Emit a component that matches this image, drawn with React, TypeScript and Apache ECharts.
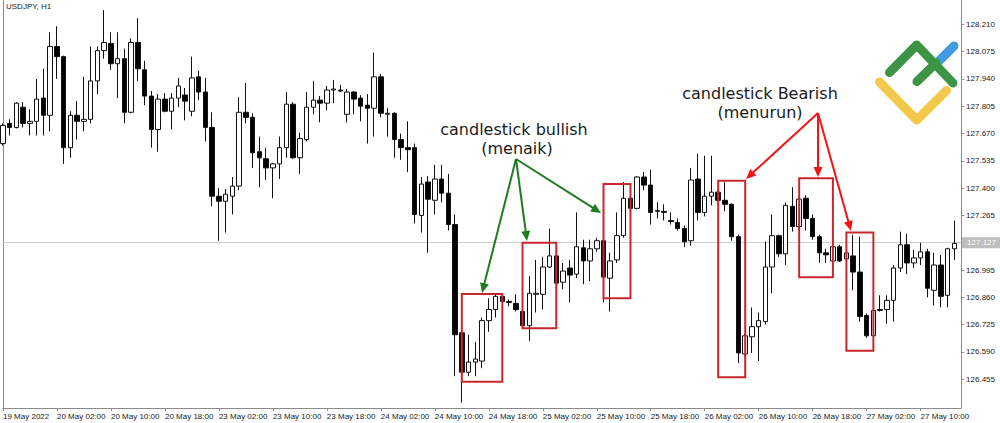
import React, { useEffect, useRef } from "react";
import * as echarts from "echarts";

// ---- time axis (hourly bars, weekend skipped) ----
const tradingDays = ["19 May", "20 May", "23 May", "24 May", "25 May", "26 May", "27 May"];
const firstHour = [18, 0, 0, 0, 0, 0, 0];
const lastHour = [23, 23, 23, 23, 23, 23, 16];
const firstLabel = "19 May 2022";
const labelEvery = 8;

// ---- OHLC values (USDJPY, H1) ----
const opens = [
  127.62, 127.72, 127.70, 127.80, 127.72, 127.73, 127.845, 127.76, 128.10, 128.05,
  127.60, 127.76, 127.73, 127.74, 127.93, 128.08, 128.115, 128.015, 128.04, 127.775,
  128.12, 127.985, 127.855, 127.69, 127.84, 127.78, 127.845, 127.86, 127.78, 127.95,
  127.875, 127.70, 127.36, 127.335, 127.36, 127.41, 127.775, 127.75, 127.58, 127.545,
  127.50, 127.52, 127.60, 127.815, 127.55, 127.64, 127.80, 127.835, 127.82, 127.885,
  127.885, 127.765, 127.875, 127.845, 127.81, 127.795, 127.95, 127.765, 127.77, 127.64,
  127.60, 127.60, 127.265, 127.43, 127.34, 127.445, 127.375, 127.22, 126.685, 126.49,
  126.54, 126.545, 126.745, 126.80, 126.865, 126.84, 126.83, 126.79, 126.72, 126.875,
  126.875, 127.01, 127.065, 126.935, 127.005, 126.975, 127.105, 127.04, 127.10, 127.14,
  126.955, 127.045, 127.165, 127.35, 127.30, 127.455, 127.415, 127.285, 127.285, 127.24,
  127.23, 127.20, 127.14, 127.445, 127.28, 127.36, 127.38, 127.34, 127.32, 127.16,
  126.58, 126.665, 126.715, 126.74, 127.01, 127.165, 127.075, 127.31, 127.21, 127.35,
  127.25, 127.16, 127.08, 127.04, 127.11, 127.05, 127.065, 126.985, 126.77, 126.67,
  126.795, 126.80, 126.845, 127.005, 127.12, 127.03, 127.055, 127.085, 126.895, 127.02,
  126.87, 127.10,
];
const closes = [
  127.71, 127.70, 127.82, 127.72, 127.73, 127.84, 127.76, 128.10, 128.05, 127.60,
  127.76, 127.73, 127.74, 127.93, 128.08, 128.12, 128.015, 128.04, 127.775, 128.12,
  127.99, 127.855, 127.69, 127.84, 127.78, 127.845, 127.905, 127.83, 127.945, 127.875,
  127.70, 127.36, 127.335, 127.37, 127.41, 127.775, 127.75, 127.575, 127.55, 127.50,
  127.52, 127.60, 127.815, 127.55, 127.645, 127.80, 127.835, 127.82, 127.885, 127.89,
  127.88, 127.875, 127.84, 127.805, 127.795, 127.95, 127.77, 127.77, 127.64, 127.60,
  127.59, 127.27, 127.42, 127.345, 127.445, 127.375, 127.22, 126.675, 126.49, 126.54,
  126.555, 126.745, 126.80, 126.865, 126.84, 126.835, 126.80, 126.72, 126.88, 126.88,
  127.01, 127.065, 126.93, 126.99, 126.97, 127.11, 127.04, 127.10, 127.14, 126.96,
  127.04, 127.165, 127.35, 127.30, 127.455, 127.415, 127.28, 127.29, 127.28, 127.235,
  127.20, 127.135, 127.44, 127.28, 127.36, 127.38, 127.34, 127.32, 127.16, 126.585,
  126.67, 126.715, 126.745, 127.01, 127.165, 127.075, 127.315, 127.21, 127.345, 127.25,
  127.16, 127.08, 127.07, 127.11, 127.04, 127.08, 126.985, 126.765, 126.67, 126.795,
  126.80, 126.845, 127.005, 127.12, 127.03, 127.055, 127.085, 126.905, 127.02, 126.865,
  127.10, 127.127,
];
const lows = [
  127.61, 127.66, 127.695, 127.70, 127.66, 127.66, 127.66, 127.68, 127.94, 127.52,
  127.55, 127.64, 127.68, 127.72, 127.865, 128.04, 127.985, 127.845, 127.72, 127.77,
  127.93, 127.81, 127.60, 127.58, 127.775, 127.69, 127.80, 127.735, 127.755, 127.835,
  127.63, 127.31, 127.14, 127.18, 127.27, 127.39, 127.72, 127.50, 127.405, 127.44,
  127.35, 127.445, 127.55, 127.545, 127.47, 127.63, 127.765, 127.725, 127.785, 127.82,
  127.875, 127.725, 127.765, 127.73, 127.62, 127.655, 127.75, 127.655, 127.55, 127.54,
  127.48, 127.225, 127.18, 127.08, 127.27, 127.33, 127.19, 126.47, 126.34, 126.47,
  126.47, 126.51, 126.69, 126.76, 126.835, 126.815, 126.79, 126.71, 126.645, 126.785,
  126.80, 127.005, 126.92, 126.90, 126.835, 126.955, 126.925, 126.94, 127.085, 126.835,
  126.79, 127.03, 127.155, 127.29, 127.295, 127.39, 127.22, 127.25, 127.24, 127.22,
  127.19, 127.11, 127.115, 127.24, 127.26, 127.315, 127.33, 127.285, 127.14, 126.535,
  126.57, 126.585, 126.545, 126.725, 126.88, 127.06, 127.02, 127.185, 127.195, 127.19,
  127.145, 127.03, 127.03, 127.035, 127.035, 127.04, 126.895, 126.74, 126.66, 126.665,
  126.79, 126.73, 126.74, 126.985, 126.975, 127.005, 127.02, 126.86, 126.82, 126.81,
  126.81, 127.045,
];
const highs = [
  127.72, 127.74, 127.825, 127.825, 127.79, 127.94, 127.99, 128.17, 128.20, 128.055,
  127.78, 127.83, 127.95, 128.10, 128.10, 128.28, 128.17, 128.17, 128.09, 128.14,
  128.24, 128.03, 127.88, 127.865, 127.87, 127.87, 127.945, 127.895, 128.05, 127.98,
  127.945, 127.775, 127.40, 127.395, 127.455, 127.85, 127.92, 127.77, 127.655, 127.60,
  127.525, 127.655, 127.875, 127.825, 127.675, 127.875, 127.93, 127.855, 127.905, 127.935,
  127.91, 127.89, 127.88, 127.86, 127.865, 128.07, 127.965, 127.795, 127.775, 127.67,
  127.73, 127.62, 127.455, 127.46, 127.515, 127.515, 127.47, 127.27, 126.69, 126.675,
  126.64, 126.76, 126.855, 126.88, 126.88, 126.85, 126.875, 126.80, 126.965, 127.045,
  127.06, 127.20, 127.075, 127.03, 127.045, 127.28, 127.145, 127.145, 127.155, 127.155,
  127.08, 127.28, 127.43, 127.36, 127.46, 127.48, 127.49, 127.33, 127.32, 127.28,
  127.25, 127.215, 127.50, 127.57, 127.56, 127.56, 127.39, 127.43, 127.325, 127.17,
  126.68, 126.81, 126.785, 127.135, 127.27, 127.17, 127.33, 127.405, 127.355, 127.365,
  127.27, 127.17, 127.10, 127.12, 127.12, 127.09, 127.17, 127.16, 126.78, 126.80,
  126.87, 126.87, 127.02, 127.185, 127.175, 127.095, 127.13, 127.10, 127.08, 127.07,
  127.105, 127.24,
];

// ---- price scale ----
const priceMin = 126.313;
const priceMax = 128.33;
const priceTicks = [
  126.455, 126.59, 126.725, 126.86, 126.995, 127.265, 127.4, 127.535, 127.67, 127.805,
  127.94, 128.075, 128.21,
];
const lastPrice = 127.127;

// ---- highlighted candle groups: [first bar, last bar, top price, bottom price] ----
const boxFrom = [68, 77, 89, 106, 118, 125];
const boxTo = [74, 82, 93, 110, 123, 129];
const boxTop = [126.877, 127.13, 127.42, 127.437, 127.449, 127.18];
const boxBottom = [126.443, 126.707, 126.855, 126.465, 126.959, 126.596];

function pad(n: number) {
  return n < 10 ? "0" + n : "" + n;
}

function buildCategories(): string[] {
  const out: string[] = [];
  tradingDays.forEach((d, i) => {
    for (let h = firstHour[i]; h <= lastHour[i]; h++) out.push(`${d} ${pad(h)}:00`);
  });
  return out;
}

function arrow(x1: number, y1: number, x2: number, y2: number, color: string) {
  const dx = x2 - x1;
  const dy = y2 - y1;
  const len = Math.hypot(dx, dy);
  const ux = dx / len;
  const uy = dy / len;
  const hl = 10;
  const hw = 4.5;
  const bx = x2 - ux * hl;
  const by = y2 - uy * hl;
  return [
    {
      type: "line",
      shape: { x1, y1, x2: bx + ux * 2, y2: by + uy * 2 },
      style: { stroke: color, lineWidth: 2 },
      z: 20,
    },
    {
      type: "polygon",
      shape: {
        points: [
          [x2, y2],
          [bx - uy * hw, by + ux * hw],
          [bx + uy * hw, by - ux * hw],
        ],
      },
      style: { fill: color },
      z: 20,
    },
  ];
}

export default function App() {
  const ref = useRef<HTMLDivElement>(null);

  useEffect(() => {
    if (!ref.current) return;
    const chart = echarts.init(ref.current, undefined, { renderer: "svg" });
    const categories = buildCategories();
    const ohlc = opens.map((o, i) => [o, closes[i], lows[i], highs[i]]);

    const green = "#1f7d1f";
    const red = "#f21414";
    const textFont = '"DejaVu Sans", "Open Sans", sans-serif';

    const annot = (text: string, x: number, y: number) => ({
      type: "text",
      x,
      y,
      style: {
        text,
        fill: "#1a1a1a",
        font: `16px ${textFont}`,
        align: "center",
        verticalAlign: "middle",
      },
      z: 20,
    });

    const graphics: any[] = [
      {
        type: "text",
        x: 6,
        y: 6,
        style: {
          text: "USDJPY, H1",
          fill: "#222",
          font: '8px "Liberation Sans", Arial, sans-serif',
          verticalAlign: "middle",
        },
        z: 20,
      },
      annot("candlestick bullish", 514, 129.5),
      annot("(menaik)", 517, 148.7),
      annot("candlestick Bearish", 760, 93.5),
      annot("(menurun)", 760, 112.7),
      ...arrow(516, 159, 482, 293, green),
      ...arrow(516, 159, 527, 241, green),
      ...arrow(516, 159, 601, 213, green),
      ...arrow(818, 113, 746, 179, red),
      ...arrow(818, 113, 818, 177, red),
      ...arrow(818, 113, 851, 231, red),
      // logo
      {
        type: "polyline",
        shape: { points: [[936, 64], [954, 46]] },
        style: { stroke: "#3f9be2", lineWidth: 9, lineCap: "round", fill: null },
        z: 20,
      },
      {
        type: "polyline",
        shape: { points: [[879.5, 82], [916.7, 120], [946.5, 90.5]] },
        style: { stroke: "#f2c94a", lineWidth: 9, lineCap: "round", lineJoin: "round", fill: null },
        z: 20,
      },
      {
        type: "polyline",
        shape: { points: [[889.5, 72.5], [916.7, 45], [953, 83]] },
        style: { stroke: "#3d9445", lineWidth: 9, lineCap: "round", lineJoin: "round", fill: null },
        z: 21,
      },
      {
        type: "polyline",
        shape: { points: [[917, 81.5], [936, 63]] },
        style: { stroke: "#3d9445", lineWidth: 9, lineCap: "round", fill: null },
        z: 21,
      },
    ];

    const axisFont = '"Liberation Sans", Arial, sans-serif';

    chart.setOption({
      animation: false,
      backgroundColor: "#ffffff",
      grid: { left: 2.6, right: 38.9, top: 0, bottom: 15, containLabel: false },
      xAxis: {
        type: "category",
        data: categories,
        boundaryGap: false,
        axisLine: { show: true, lineStyle: { color: "#8a8a8a", width: 1 } },
        axisTick: {
          show: true,
          length: 3,
          interval: (idx: number) => idx % labelEvery === 0,
          lineStyle: { color: "#8a8a8a" },
        },
        axisLabel: {
          show: true,
          interval: (idx: number) => idx % labelEvery === 0,
          formatter: (v: string, idx: number) => (idx === 0 ? firstLabel : v),
          align: "left",
          fontSize: 8,
          fontFamily: axisFont,
          color: "#222",
          margin: 4,
        },
        splitLine: { show: false },
      },
      yAxis: [
        {
          type: "value",
          position: "right",
          min: priceMin,
          max: priceMax,
          axisLine: { show: true, lineStyle: { color: "#8a8a8a", width: 1 } },
          axisTick: {
            show: true,
            length: 3,
            customValues: priceTicks,
            lineStyle: { color: "#8a8a8a" },
          },
          axisLabel: {
            show: true,
            customValues: priceTicks,
            formatter: (v: number) => v.toFixed(3),
            fontSize: 8,
            fontFamily: axisFont,
            color: "#222",
            margin: 5,
          },
          splitLine: { show: false },
        },
        {
          type: "value",
          position: "left",
          min: priceMin,
          max: priceMax,
          axisLine: { show: true, lineStyle: { color: "#8a8a8a", width: 1 } },
          axisTick: { show: false },
          axisLabel: { show: false },
          splitLine: { show: false },
        },
      ],
      series: [
        {
          type: "candlestick",
          data: ohlc,
          barWidth: 5,
          clip: true,
          itemStyle: {
            color: "#ffffff",
            color0: "#000000",
            borderColor: "#111111",
            borderColor0: "#111111",
            borderWidth: 1,
          },
          markLine: {
            silent: true,
            z: 1,
            symbol: ["none", "none"],
            lineStyle: { color: "#cfcfcf", width: 1, type: "solid" },
            label: {
              show: true,
              position: "end",
              formatter: lastPrice.toFixed(3),
              color: "#ffffff",
              backgroundColor: "#bdbdbd",
              fontSize: 8,
              fontFamily: axisFont,
              padding: [2, 6, 1, 5],
              distance: 1,
            },
            data: [{ yAxis: lastPrice }],
          },
          markArea: {
            silent: true,
            z: 5,
            itemStyle: {
              color: "rgba(0,0,0,0)",
              borderColor: "#c8282d",
              borderWidth: 2,
            },
            data: boxFrom.map((f, i) => [
              { coord: [categories[f], boxTop[i]] },
              { coord: [categories[boxTo[i]], boxBottom[i]] },
            ]),
          },
        },
      ],
      graphic: graphics,
    });

    return () => chart.dispose();
  }, []);

  return (
    <div
      ref={ref}
      style={{ position: "absolute", left: 0, top: 0, width: 1000, height: 423, background: "#fff" }}
    />
  );
}
